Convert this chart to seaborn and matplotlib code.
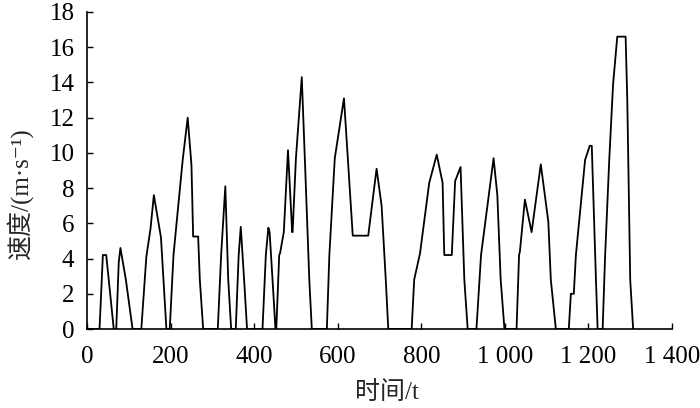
import matplotlib
matplotlib.use("Agg")
import matplotlib.pyplot as plt
import seaborn as sns
import pandas as pd

# drive cycle: time (t) and speed (m/s)
time_t = [0, 30, 38, 46, 52, 64,
          70, 76, 80, 93, 109,
          130, 142, 152, 160, 177, 183, 190,
          198, 207, 229, 241, 250, 254, 266, 270, 278,
          313, 321, 331, 338, 345,
          356, 363, 368, 376, 383,
          420, 428, 434, 437, 444, 451,
          453, 460, 462, 471, 481, 491, 492, 500, 514, 523, 532, 538,
          574, 580, 593, 615, 636, 673, 693, 705, 715, 721,
          777, 783, 797, 819, 837, 851, 855, 873, 881, 894, 903, 911,
          932, 943, 973, 982, 990, 999,
          1028, 1034, 1036, 1048, 1064, 1086, 1104, 1110, 1122,
          1153, 1158, 1165, 1170, 1192, 1203, 1208, 1218, 1222,
          1234, 1240, 1250, 1259, 1269, 1289, 1293, 1300, 1307]
speed = [0, 0, 4.2, 4.2, 2.8, 0,
         0, 3.8, 4.6, 2.8, 0,
         0, 4.1, 5.7, 7.6, 5.2, 2.8, 0,
         0, 4.2, 9.6, 12.0, 9.3, 5.25, 5.25, 2.8, 0,
         0, 4.2, 8.1, 2.8, 0,
         0, 4.2, 5.8, 2.8, 0,
         0, 4.2, 5.75, 5.5, 2.8, 0,
         0, 4.2, 4.3, 5.5, 10.15, 5.5, 5.5, 9.7, 14.3, 8.6, 2.8, 0,
         0, 4.2, 9.7, 13.1, 5.3, 5.3, 9.1, 7.0, 2.8, 0,
         0, 2.8, 4.3, 8.3, 9.9, 8.3, 4.2, 4.2, 8.4, 9.2, 2.8, 0,
         0, 4.2, 9.7, 7.6, 2.8, 0,
         0, 4.2, 4.4, 7.35, 5.5, 9.35, 6.1, 2.8, 0,
         0, 2.0, 2.0, 4.2, 9.6, 10.4, 10.4, 2.8, 0,
         0, 4.2, 9.7, 13.9, 16.6, 16.6, 13.0, 2.8, 0]

x_ticks = [0, 200, 400, 600, 800, 1000, 1200, 1400]
x_labels = ["0", "200", "400", "600", "800", "1 000", "1 200", "1 400"]
y_ticks = [0, 2, 4, 6, 8, 10, 12, 14, 16, 18]

df = pd.DataFrame({"t": time_t, "v": speed})

sns.set_theme(style="ticks")
plt.rcParams["font.family"] = ["Liberation Serif", "Noto Sans CJK SC", "DejaVu Sans"]

fig, ax = plt.subplots(figsize=(7, 4.08), dpi=100)
fig.subplots_adjust(left=87 / 700, right=672 / 700,
                    bottom=(408 - 329) / 408, top=(408 - 12) / 408)

sns.lineplot(data=df, x="t", y="v", color="black", linewidth=1.3, ax=ax)

ax.set_xlim(0, 1400)
ax.set_ylim(0, 18)
ax.set_xticks(x_ticks)
ax.set_xticklabels(x_labels)
ax.set_yticks(y_ticks)
ax.tick_params(direction="in", length=4, width=1.0, colors="black",
               labelsize=18)
ax.tick_params(axis="x", pad=12)
ax.tick_params(axis="y", pad=9)
for s in ["left", "bottom"]:
    ax.spines[s].set_linewidth(1.2)
    ax.spines[s].set_color("black")
sns.despine(ax=ax)

ax.set_xlabel("时间/t", fontsize=18)
ax.set_ylabel("速度/(m·s⁻¹)", fontsize=18)
ax.xaxis.set_label_coords(0.513, -0.165)
ax.yaxis.set_label_coords(-0.092, 0.43)

fig.savefig("out.png", dpi=100)
